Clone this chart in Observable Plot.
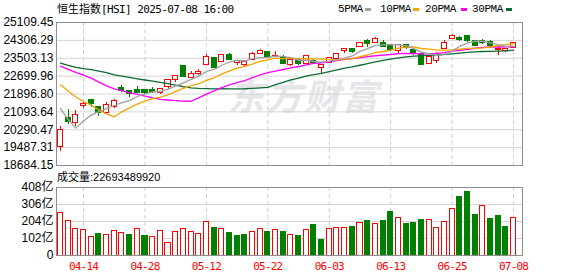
<!DOCTYPE html>
<html><head><meta charset="utf-8">
<script src="https://cdn.jsdelivr.net/npm/d3@7"></script>
<script src="https://cdn.jsdelivr.net/npm/@observablehq/plot@0.6"></script>
<style>
html,body{margin:0;padding:0;background:#fff;}
#wrap{position:relative;width:578px;height:276px;overflow:hidden;background:#fff;}
#wrap svg{position:absolute;left:0;top:0;overflow:visible;}
.t{position:absolute;white-space:nowrap;color:#000;}
.sw{position:absolute;width:6px;height:3px;}
</style></head><body><div id="wrap"></div>
<script>
const dates = ["04-09","04-10","04-11","04-14","04-15","04-16","04-17","04-22","04-23","04-24","04-25","04-28","04-29","04-30","05-02","05-06","05-07","05-08","05-09","05-12","05-13","05-14","05-15","05-16","05-19","05-20","05-21","05-22","05-23","05-26","05-27","05-28","05-29","05-30","06-02","06-03","06-04","06-05","06-06","06-09","06-10","06-11","06-12","06-13","06-16","06-17","06-18","06-19","06-20","06-23","06-24","06-25","06-26","06-27","06-30","07-02","07-03","07-04","07-07","07-08"];
const opens = [19519,20785,20621,21372,21586,21311,21065,21326,22131,21999,22070,22061,22053,21967,22251,22560,23151,22629,22823,23210,23483,23355,23631,23320,23213,23458,23721,23754,23570,23487,23230,23405,23283,23379,23082,23334,23507,23862,23913,24020,24266,24189,24182,24013,23838,24087,23845,23657,23276,23390,23927,24372,24370,24462,24250,24250,24217,23890,23860,23970];
const highs = [20442,21204,21138,21533,21610,21356,21511,21638,22265,22044,22217,22090,22178,22146,22520,22739,23195,22928,22988,23656,23510,23686,23721,23350,23409,23752,23899,23798,23824,23607,23400,23480,23626,23441,23170,23557,23699,23910,23942,24190,24342,24441,24289,24058,24092,24114,23907,23702,23575,23763,24297,24550,24460,24462,24270,24340,24290,24065,23895,24193];
const lows = [19300,20535,20456,21239,21288,20879,21021,21232,21984,21731,21905,21870,21910,21864,22104,22409,22660,22600,22748,23178,23063,23328,23382,23198,23123,23382,23676,23520,23530,23264,23150,23183,23240,23245,22757,23290,23477,23730,23718,24010,23999,24189,24022,23794,23731,23908,23640,23210,23245,23245,23927,24328,24266,24208,24060,24100,23921,23646,23740,23943];
const closes = [20264.49,20681.78,20914.69,21417.40,21466.27,21056.98,21395.14,21562.32,22072.62,21909.76,21980.74,21971.96,22008.11,22119.41,22504.68,22662.71,22691.88,22775.92,22867.74,23549.46,23108.27,23640.65,23453.16,23345.05,23332.72,23681.48,23827.78,23544.31,23601.26,23282.33,23381.99,23258.31,23573.38,23289.77,23157.97,23512.49,23654.03,23906.97,23792.54,24181.43,24162.87,24366.94,24035.38,23892.56,24060.99,23980.30,23710.69,23237.74,23530.48,23689.13,24177.07,24474.67,24325.40,24284.15,24072.28,24221.41,24069.94,23916.06,23887.83,24148.07];
const prevClose = 20127.68;
const volumes = [256,206,158,154,112,132,124,148,136,126,160,118,112,148,78,144,160,144,132,202,168,160,138,120,126,144,160,144,154,144,126,120,156,186,96,160,166,166,174,198,210,192,210,264,226,192,198,216,214,166,202,280,354,384,246,300,222,240,174,226.9];
const ma5 = [21254.6,20750.4,20363.4,20681.2,20948.9,21107.4,21250.1,21379.6,21510.7,21599.4,21784.1,21899.5,21988.6,21998.0,22117.0,22253.4,22397.4,22550.9,22700.6,22909.5,22998.7,23188.4,23323.9,23419.3,23376.0,23490.6,23528.0,23546.3,23597.5,23587.4,23527.5,23413.6,23419.5,23357.2,23332.3,23358.4,23437.5,23504.2,23604.8,23809.5,23939.6,24082.2,24107.8,24127.8,24103.7,24067.2,23936.0,23776.5,23704.0,23629.7,23669.0,23821.8,24039.4,24190.1,24266.7,24275.6,24194.6,24112.8,24033.5,24048.7];
const ma10 = [22308.8,22028.6,21762.2,21561.3,21396.0,21181.0,21000.3,20871.5,21095.9,21274.1,21445.8,21574.8,21684.1,21754.3,21858.2,22018.7,22148.4,22269.8,22349.3,22513.3,22626.0,22792.9,22937.4,23060.0,23142.8,23244.6,23358.2,23435.1,23508.4,23481.7,23509.1,23470.8,23482.9,23477.3,23459.9,23443.0,23425.6,23461.9,23481.0,23570.9,23649.0,23759.8,23806.0,23866.3,23956.6,24003.4,24009.1,23942.1,23915.9,23866.7,23868.1,23878.9,23907.9,23947.1,23948.2,23972.3,24008.2,24076.1,24111.8,24157.7];
const ma20 = [23146.4,23000.5,22873.1,22745.9,22612.0,22427.8,22259.0,22126.1,22045.2,21945.5,21877.3,21801.7,21723.2,21657.8,21627.1,21599.9,21574.3,21570.6,21722.6,21893.7,22035.9,22183.8,22310.8,22407.1,22500.5,22631.7,22753.3,22852.4,22928.9,22997.5,23067.5,23131.9,23210.1,23268.6,23301.3,23343.8,23391.9,23448.5,23494.7,23526.3,23579.0,23615.3,23644.5,23671.8,23708.2,23723.2,23717.3,23702.0,23698.5,23718.8,23758.6,23819.4,23857.0,23906.7,23952.4,23987.9,24008.6,24009.1,24013.9,24012.2];
const ma30 = [23287.9,23184.3,23090.9,23040.1,22988.7,22925.9,22852.6,22759.0,22702.0,22639.6,22579.5,22525.2,22476.7,22415.4,22360.7,22291.4,22222.1,22174.0,22146.6,22134.7,22126.9,22132.1,22127.9,22125.2,22132.3,22148.1,22169.0,22192.1,22317.9,22423.0,22527.0,22612.8,22701.5,22763.9,22820.3,22902.1,22977.4,23055.6,23112.9,23188.6,23261.4,23341.2,23408.8,23467.9,23519.7,23563.7,23597.6,23613.0,23635.1,23639.8,23675.4,23703.2,23732.3,23763.6,23788.2,23806.2,23814.3,23826.7,23836.2,23865.1];
const yTicks = [18684.15,19487.31,20290.47,21093.64,21896.80,22699.96,23503.13,24306.29,25109.45];
const volTicks = [0,102,204,306,408];
const tickDates = ["04-14","04-28","05-12","05-22","06-03","06-13","06-25","07-08"];
const maNames = ["5PMA","10PMA","20PMA","30PMA"];
const maColors = ["#a0a0a0","#f5a300","#ff00ff","#0b6b32"];
const titleName = "恒生指数", titleRest = "[HSI] 2025-07-08 16:00";
const volLabel = "成交量:22693489920";
const watermark = "东方财富";

const RED = "#ff0000", GREEN = "#008000";
const rows = dates.map((d, i) => ({i, date: d, open: opens[i], high: highs[i], low: lows[i], close: closes[i],
  vol: volumes[i], ma5: ma5[i], ma10: ma10[i], ma20: ma20[i], ma30: ma30[i],
  volUp: closes[i] >= (i === 0 ? prevClose : closes[i - 1])}));
const up = rows.filter(d => d.close >= d.open);
const down = rows.filter(d => d.close < d.open);
const tickIdx = tickDates.map(t => dates.indexOf(t));
const xDomain = [-0.52, 60.16];
const bw = 0.33;
const font = "'Liberation Sans','Noto Sans CJK SC',sans-serif";

const main = Plot.plot({
  width: 578, height: 276,
  marginLeft: 56, marginRight: 56, marginTop: 22, marginBottom: 111,
  style: {background: "transparent", fontFamily: font, fontSize: "12px", color: "#000"},
  x: {domain: xDomain, axis: null, label: null},
  y: {domain: [yTicks[0], yTicks[yTicks.length - 1]], label: null},
  marks: [
    Plot.gridY(yTicks, {stroke: "#d4d4d4", strokeOpacity: 1}),
    Plot.gridX(tickIdx, {stroke: "#d0d0d0", strokeOpacity: 1, strokeDasharray: "4,3"}),
    Plot.ruleX(up, {x: "i", y1: "low", y2: "high", stroke: RED, shapeRendering: "crispEdges"}),
    Plot.ruleX(down, {x: "i", y1: "low", y2: "high", stroke: GREEN, shapeRendering: "crispEdges"}),
    Plot.rect(up, {x1: d => d.i - bw, x2: d => d.i + bw, y1: "open", y2: "close", fill: "white", stroke: RED, insetTop: -0.5, insetBottom: -0.5, shapeRendering: "crispEdges"}),
    Plot.rect(down, {x1: d => d.i - bw, x2: d => d.i + bw, y1: "open", y2: "close", fill: GREEN, stroke: GREEN, insetTop: -0.5, insetBottom: -0.5, shapeRendering: "crispEdges"}),
    Plot.line(rows, {x: "i", y: "ma30", stroke: maColors[3], strokeWidth: 1.3}),
    Plot.line(rows, {x: "i", y: "ma20", stroke: maColors[2], strokeWidth: 1.3}),
    Plot.line(rows, {x: "i", y: "ma10", stroke: maColors[1], strokeWidth: 1.3}),
    Plot.line(rows, {x: "i", y: "ma5", stroke: maColors[0], strokeWidth: 1.3}),
    Plot.axisY(yTicks, {tickSize: 0, tickPadding: 3, tickFormat: d => d.toFixed(2), fill: "#000", fontSize: 12}),
    Plot.frame({stroke: "#8e8e8e"})
  ]
});

const vol = Plot.plot({
  width: 578, height: 276,
  marginLeft: 56, marginRight: 56, marginTop: 187, marginBottom: 21,
  style: {background: "transparent", fontFamily: font, fontSize: "12px", color: "#000"},
  x: {domain: xDomain, label: null},
  y: {domain: [volTicks[0], volTicks[volTicks.length - 1]], label: null},
  marks: [
    Plot.gridY(volTicks.slice(1, -1), {stroke: "#d4d4d4", strokeOpacity: 1}),
    Plot.gridX(tickIdx, {stroke: "#d0d0d0", strokeOpacity: 1, strokeDasharray: "4,3"}),
    Plot.rect(rows.filter(d => d.volUp), {x1: d => d.i - bw, x2: d => d.i + bw, y1: 0, y2: "vol", fill: "white", stroke: RED, shapeRendering: "crispEdges"}),
    Plot.rect(rows.filter(d => !d.volUp), {x1: d => d.i - bw, x2: d => d.i + bw, y1: 0, y2: "vol", fill: GREEN, stroke: GREEN, shapeRendering: "crispEdges"}),
    Plot.axisY(volTicks, {tickSize: 0, tickPadding: 3, tickFormat: d => d === 0 ? "0" : d + "亿", fill: "#000", fontSize: 12}),
    Plot.axisX(tickIdx, {tickSize: 0, tickPadding: 7, tickFormat: i => dates[i], fill: RED, fontSize: 11, fontFamily: "'DejaVu Sans Mono',monospace"}),
    Plot.frame({stroke: "#8e8e8e"})
  ]
});

const wrap = document.getElementById("wrap");
const wm = document.createElement("div");
wm.className = "t";
wm.style.cssText = "left:228px;top:72px;font-size:36px;line-height:44px;font-weight:bold;font-style:italic;color:#e6e6ea;font-family:'Noto Sans CJK SC';letter-spacing:2px";
wm.textContent = watermark;
wrap.appendChild(wm);
wrap.appendChild(main);
wrap.appendChild(vol);
d3.select(vol).selectAll('g[aria-label="x-axis tick label"] text').style("letter-spacing", "-0.8px");

const title = document.createElement("div");
title.className = "t";
title.style.cssText = "left:57px;top:1px;font-size:11px;line-height:14px;";
title.innerHTML = `<span style="font-family:'Noto Sans CJK SC'">${titleName}</span><span style="font-family:'DejaVu Sans Mono';letter-spacing:-0.6px">${titleRest}</span>`;
wrap.appendChild(title);

const legX = [338, 380, 425, 472];
const swX = [365, 413, 461, 506];
maNames.forEach((n, k) => {
  const t = document.createElement("div");
  t.className = "t";
  t.style.cssText = `left:${legX[k]}px;top:2px;font-size:11px;line-height:14px;font-family:'Liberation Mono';letter-spacing:-0.4px;`;
  t.textContent = n;
  wrap.appendChild(t);
  const s = document.createElement("div");
  s.className = "sw";
  s.style.cssText = `left:${swX[k]}px;top:8px;background:${maColors[k]};`;
  wrap.appendChild(s);
});

const vl = document.createElement("div");
vl.className = "t";
vl.style.cssText = `left:57px;top:170px;font-size:11px;line-height:14px;font-family:${font};`;
vl.textContent = volLabel;
wrap.appendChild(vl);
</script></body></html>
